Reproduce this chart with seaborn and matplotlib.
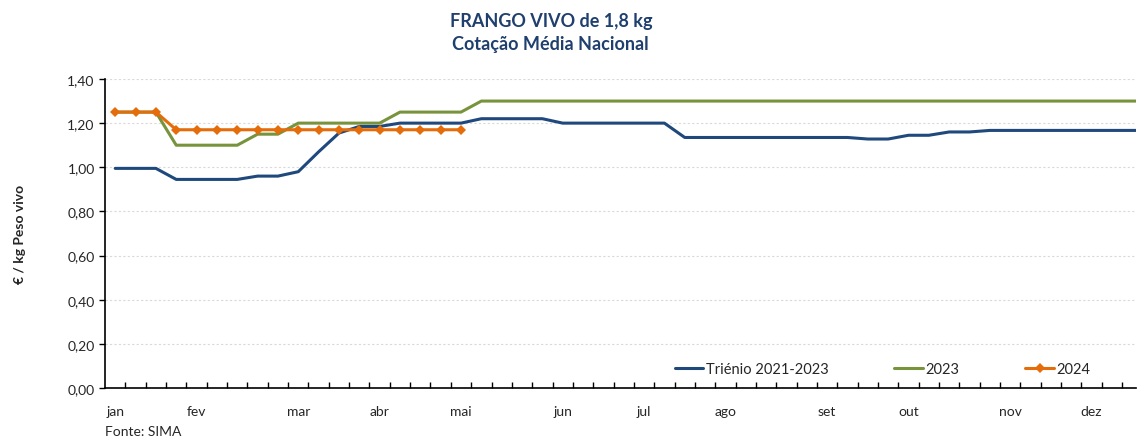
import matplotlib
matplotlib.use("Agg")
import matplotlib.pyplot as plt
from matplotlib.ticker import FixedLocator, FuncFormatter
import seaborn as sns
import pandas as pd
import numpy as np

# weekly prices, EUR / kg live weight
triennio = [0.995, 0.995, 0.995, 0.945, 0.945, 0.945, 0.945, 0.96, 0.96, 0.98,
            1.07, 1.155, 1.185, 1.185, 1.20, 1.20, 1.20, 1.20, 1.22, 1.22,
            1.22, 1.22, 1.20, 1.20, 1.20, 1.20, 1.20, 1.20, 1.135, 1.135,
            1.135, 1.135, 1.135, 1.135, 1.135, 1.135, 1.135, 1.128, 1.128, 1.145,
            1.145, 1.16, 1.16, 1.167, 1.167, 1.167, 1.167, 1.167, 1.167, 1.167,
            1.167, 1.167]
y2023 = [1.25, 1.25, 1.25, 1.10, 1.10, 1.10, 1.10, 1.15, 1.15, 1.20,
         1.20, 1.20, 1.20, 1.20, 1.25, 1.25, 1.25, 1.25] + [1.30] * 34
y2024 = [1.25, 1.25, 1.25] + [1.17] * 15

month_labels = ["jan", "fev", "mar", "abr", "mai", "jun",
                "jul", "ago", "set", "out", "nov", "dez"]
month_weeks = [0, 4, 9, 13, 17, 22, 26, 30, 35, 39, 44, 48]

BLUE = "#1F497D"
GREEN = "#77933C"
ORANGE = "#E46C0A"
TITLE_BLUE = "#1F3F6E"

sns.set_style("white")
plt.rcParams["font.family"] = ["Lato", "DejaVu Sans"]

fig = plt.figure(figsize=(11.38, 4.39), dpi=100)
ax = fig.add_axes([0.0923, 0.1139, 0.9057, 0.7039])

df_tri = pd.DataFrame({"week": np.arange(len(triennio)), "price": triennio})
df_23 = pd.DataFrame({"week": np.arange(len(y2023)), "price": y2023})
df_24 = pd.DataFrame({"week": np.arange(len(y2024)), "price": y2024})

sns.lineplot(data=df_tri, x="week", y="price", ax=ax, color=BLUE, lw=2.2,
             label="Triénio 2021-2023")
sns.lineplot(data=df_23, x="week", y="price", ax=ax, color=GREEN, lw=2.2,
             label="2023")
sns.lineplot(data=df_24, x="week", y="price", ax=ax, color=ORANGE, lw=2.2,
             marker="D", markersize=5, markeredgewidth=0, label="2024")

ax.set_ylim(0, 1.40)
ax.set_xlim(-0.5, 50.17)
ax.set_yticks(np.arange(0, 1.41, 0.2))
ax.yaxis.set_major_formatter(FuncFormatter(lambda v, p: f"{v:.2f}".replace(".", ",")))
ax.grid(axis="y", color="#D9D9D9", linestyle=(0, (2, 2)), lw=0.8)
ax.grid(axis="x", visible=False)

ax.set_xticks(month_weeks)
ax.set_xticklabels(month_labels)
ax.xaxis.set_minor_locator(FixedLocator(np.arange(0.5, 51, 1)))
ax.tick_params(axis="x", which="major", length=0, pad=12, labelsize=10)
ax.tick_params(axis="x", which="minor", length=4, direction="in", color="black", width=1)
ax.tick_params(axis="y", which="major", length=4, direction="out", color="black",
               width=1, labelsize=10)
ax.xaxis.set_ticks_position("bottom")
ax.yaxis.set_ticks_position("left")

for side in ["top", "right"]:
    ax.spines[side].set_visible(False)
for side in ["left", "bottom"]:
    ax.spines[side].set_color("black")
    ax.spines[side].set_linewidth(1.2)

ax.set_xlabel("")
ax.set_ylabel("€ / kg Peso vivo", fontsize=10, fontweight="bold", labelpad=30)

ax.legend(loc="lower right", bbox_to_anchor=(0.969, -0.005), ncol=3, frameon=False,
          fontsize=10.5, handlelength=1.95, handletextpad=0.2, columnspacing=4.5)

fig.text(0.484, 0.925, "FRANGO VIVO de 1,8 kg\nCotação Média Nacional", ha="center",
         va="center", fontsize=13, fontweight="bold", color=TITLE_BLUE,
         linespacing=1.45)
fig.text(0.092, 0.002, "Fonte: SIMA", fontsize=10, ha="left", va="bottom")

fig.savefig("out.png", dpi=100)
